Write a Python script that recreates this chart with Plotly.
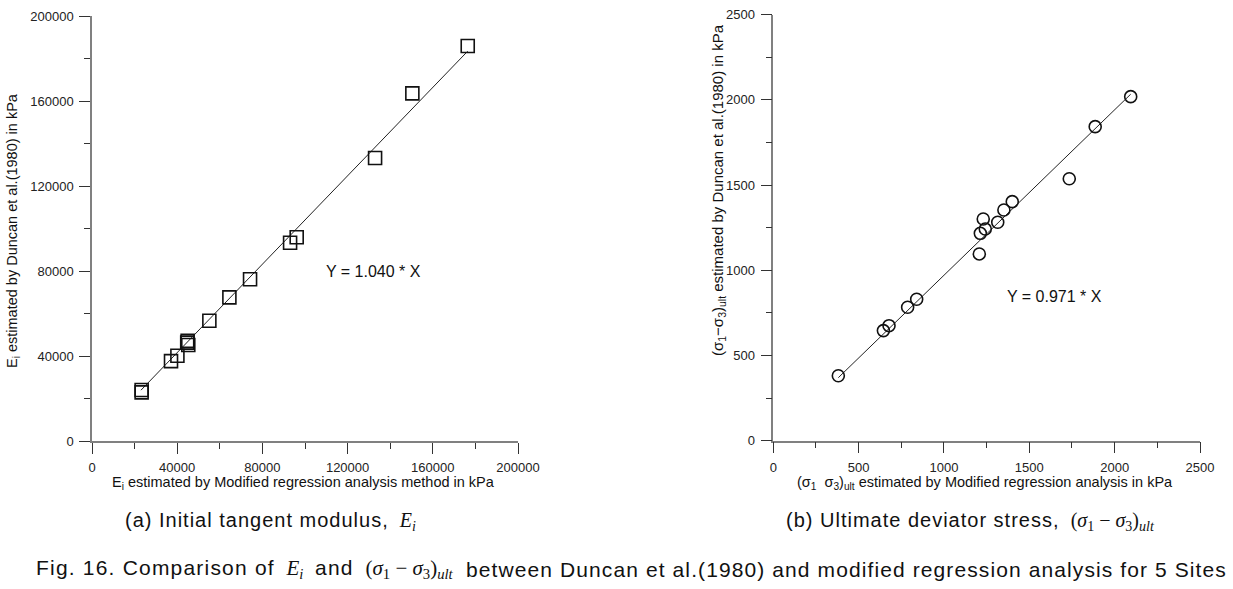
import plotly.graph_objects as go

# ---- data ----
ei_modified = [176400, 150400, 132900, 96100, 93000, 74200, 64500, 55100, 44900, 45200, 44700, 40100, 37100, 23300, 23300]
ei_duncan = [185900, 163600, 133200, 95900, 93300, 76100, 67600, 56600, 47100, 45200, 46300, 40100, 37600, 24000, 22900]
fit_a_slope = 1.040
fit_a_x = [23000, 176400]

su_modified = [2094, 1886, 1734, 1400, 1351, 1315, 1230, 1242, 1213, 1207, 840, 787, 678, 645, 381]
su_duncan = [2019, 1843, 1537, 1403, 1354, 1282, 1301, 1242, 1217, 1096, 830, 783, 675, 646, 381]
fit_b_slope = 0.971
fit_b_x = [381, 2094]

ticks_a = [0, 40000, 80000, 120000, 160000, 200000]
ticks_b = [0, 500, 1000, 1500, 2000, 2500]

W, H = 1233, 589
FONT = "Liberation Sans"
MATH = "Liberation Serif"

fig = go.Figure()
fig.add_trace(go.Scatter(x=fit_a_x, y=[fit_a_slope * v for v in fit_a_x], mode="lines",
                         line=dict(color="#222", width=1), xaxis="x", yaxis="y", showlegend=False))
fig.add_trace(go.Scatter(x=ei_modified, y=ei_duncan, mode="markers",
                         marker=dict(symbol="square-open", size=13, color="#111", line=dict(width=1.6)),
                         xaxis="x", yaxis="y", showlegend=False))
fig.add_trace(go.Scatter(x=fit_b_x, y=[fit_b_slope * v for v in fit_b_x], mode="lines",
                         line=dict(color="#222", width=1), xaxis="x2", yaxis="y2", showlegend=False))
fig.add_trace(go.Scatter(x=su_modified, y=su_duncan, mode="markers",
                         marker=dict(symbol="circle-open", size=12, color="#111", line=dict(width=1.6)),
                         xaxis="x2", yaxis="y2", showlegend=False))

def ax(rng, ticks, minor_step, domain, anchor):
    return dict(range=rng, tickvals=ticks, ticktext=[str(t) for t in ticks],
                domain=domain, anchor=anchor, automargin=False,
                showline=True, linecolor="#808080", linewidth=1.5,
                ticks="outside", ticklen=11, tickcolor="#333", tickwidth=1,
                ticklabelstandoff=3,
                minor=dict(dtick=minor_step, ticks="outside", ticklen=6, tickcolor="#333", tickwidth=1),
                showgrid=False, zeroline=False,
                tickfont=dict(family=FONT, size=13, color="#222"))

fig.update_layout(
    width=W, height=H, margin=dict(l=0, r=0, t=0, b=0, autoexpand=False),
    paper_bgcolor="white", plot_bgcolor="white",
    xaxis=ax([0, 200000], ticks_a, 20000, [92 / W, 518 / W], "y"),
    yaxis=ax([0, 200000], ticks_a, 20000, [1 - 441 / H, 1 - 16 / H], "x"),
    xaxis2=ax([0, 2500], ticks_b, 250, [773.3 / W, 1200 / W], "y2"),
    yaxis2=ax([0, 2500], ticks_b, 250, [1 - 440.7 / H, 1 - 14.7 / H], "x2"),
)

def ann(text, px, py, size, angle=0, family=FONT, xanchor="center"):
    fig.add_annotation(text=text, x=px / W, y=1 - py / H, xref="paper", yref="paper",
                       showarrow=False, textangle=angle, xanchor=xanchor, yanchor="middle",
                       font=dict(family=family, size=size, color="#111"))

m = lambda s: f'<span style="font-family:{MATH}"><i>{s}</i></span>'
sig_expr = f'<span style="font-family:{MATH}">(<i>σ</i><sub>1</sub> − <i>σ</i><sub>3</sub>)<sub><i>ult</i></sub></span>'
ei_expr = m("E") + f'<sub>{m("i")}</sub>'
track = lambda s, ls=1: f'<span style="letter-spacing:{ls}px">{s}</span>'

# equations
fig.add_annotation(text="Y = 1.040 * X", x=132000, y=80000, xref="x", yref="y", showarrow=False,
                   font=dict(family=FONT, size=16, color="#111"))
fig.add_annotation(text="Y = 0.971 * X", x=1645, y=849, xref="x2", yref="y2", showarrow=False,
                   font=dict(family=FONT, size=16, color="#111"))

# axis titles
ann("E<sub>i</sub> estimated by Modified regression analysis method in kPa", 303, 483, 14.5)
ann("E<sub>i</sub> estimated by Duncan et al.(1980) in kPa", 13, 231, 14.5, angle=-90)
ann("(σ<sub>1</sub>  σ<sub>3</sub>)<sub>ult</sub> estimated by Modified regression analysis in kPa", 985, 483, 14.5)
ann("(σ<sub>1</sub>−σ<sub>3</sub>)<sub>ult</sub> estimated by Duncan et al.(1980) in kPa", 719, 190, 15, angle=-90)

# captions
ann(track("(a) Initial tangent modulus,") + "  " + ei_expr, 270, 521, 20)
ann(track("(b) Ultimate deviator stress,") + "  " + sig_expr, 970, 521, 20)
ann(track("Fig. 16. Comparison of", 1.2) + "  " + ei_expr + "  " + track("and", 1.2) + "  " + sig_expr,
    456, 569, 21, xanchor="right")
ann(track("between Duncan et al.(1980) and modified regression analysis for 5 Sites", 1.1), 464, 569, 21,
    xanchor="left")

fig.write_html("out.html", config={"displayModeBar": False},
               post_script="document.body.style.margin='0';")
